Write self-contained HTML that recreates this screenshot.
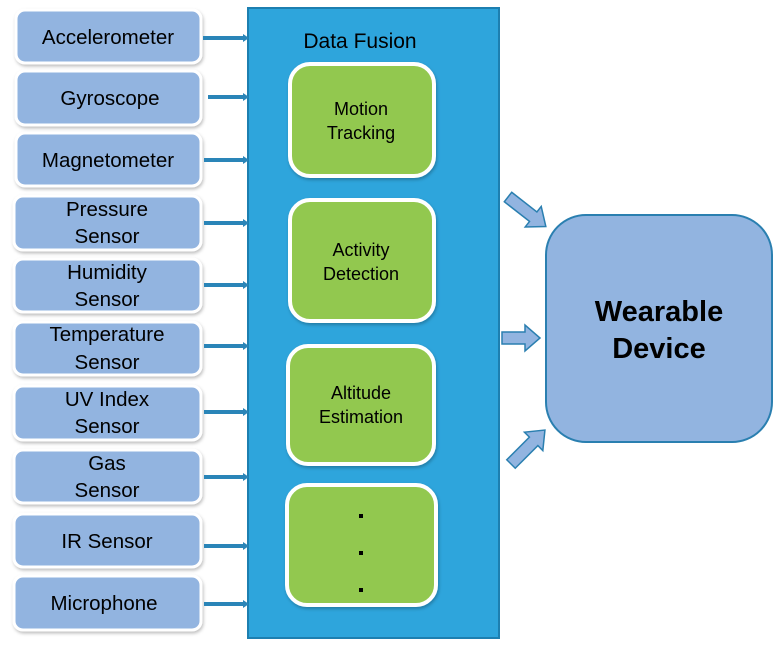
<!DOCTYPE html>
<html><head><meta charset="utf-8"><style>html,body{margin:0;padding:0;background:#fff}svg{display:block}</style></head><body>
<svg width="780" height="647" viewBox="0 0 780 647" xmlns="http://www.w3.org/2000/svg" font-family="Liberation Sans, Arial, sans-serif">
<defs><filter id="sh" x="-10%" y="-10%" width="130%" height="130%"><feDropShadow dx="1" dy="2" stdDeviation="1.5" flood-color="#000" flood-opacity="0.25"/></filter></defs>
<rect x="248" y="8" width="251" height="630" fill="#2ea5dc" stroke="#1d7fb0" stroke-width="2"/>
<text x="360" y="48" font-size="21" text-anchor="middle" fill="#000">Data Fusion</text>
<g fill="#92c850" stroke="#fff" stroke-width="4" filter="url(#sh)">
<rect x="290" y="64" width="144" height="112" rx="20"/>
<rect x="290" y="200" width="144" height="121" rx="20"/>
<rect x="288" y="346" width="146" height="118" rx="20"/>
<rect x="287" y="485" width="149" height="120" rx="20"/>
</g>
<g font-size="18" text-anchor="middle" fill="#000">
<text x="361" y="115">Motion</text><text x="361" y="139">Tracking</text>
<text x="361" y="256">Activity</text><text x="361" y="280">Detection</text>
<text x="361" y="399">Altitude</text><text x="361" y="423">Estimation</text>
</g>
<g fill="#000"><rect x="359" y="514" width="4" height="4"/><rect x="359" y="551" width="4" height="4"/><rect x="359" y="588" width="4" height="4"/></g>
<g fill="#92b4e0" stroke="#fff" stroke-width="3" filter="url(#sh)">
<rect x="16" y="10" width="185" height="53" rx="9"/>
<rect x="16" y="71" width="185" height="54" rx="9"/>
<rect x="16" y="133" width="185" height="53" rx="9"/>
<rect x="14" y="196" width="187" height="54" rx="9"/>
<rect x="14" y="259" width="187" height="53" rx="9"/>
<rect x="14" y="322" width="187" height="53" rx="9"/>
<rect x="14" y="386" width="187" height="54" rx="9"/>
<rect x="14" y="450" width="187" height="53" rx="9"/>
<rect x="14" y="514" width="187" height="53" rx="9"/>
<rect x="14" y="576" width="187" height="54" rx="9"/>
</g>
<g font-size="20.5" text-anchor="middle" fill="#000">
<text x="108" y="44">Accelerometer</text>
<text x="110" y="105">Gyroscope</text>
<text x="108" y="167">Magnetometer</text>
<text x="107" y="216">Pressure</text><text x="107" y="243">Sensor</text>
<text x="107" y="279">Humidity</text><text x="107" y="306">Sensor</text>
<text x="107" y="341">Temperature</text><text x="107" y="369">Sensor</text>
<text x="107" y="406">UV Index</text><text x="107" y="433">Sensor</text>
<text x="107" y="470">Gas</text><text x="107" y="497">Sensor</text>
<text x="107" y="548">IR Sensor</text>
<text x="104" y="610">Microphone</text>
</g>
<g stroke="#2a85b8" stroke-width="4">
<line x1="203" y1="38" x2="244" y2="38"/><line x1="208" y1="97" x2="244" y2="97"/><line x1="204" y1="160" x2="244" y2="160"/>
<line x1="204" y1="223" x2="244" y2="223"/><line x1="204" y1="285" x2="244" y2="285"/><line x1="204" y1="346" x2="244" y2="346"/>
<line x1="204" y1="412" x2="244" y2="412"/><line x1="204" y1="477" x2="244" y2="477"/><line x1="204" y1="546" x2="244" y2="546"/>
<line x1="204" y1="604" x2="244" y2="604"/>
</g>
<g fill="#2a85b8">
<polygon points="243,34 249,38 243,42"/><polygon points="243,93 249,97 243,101"/><polygon points="243,156 249,160 243,164"/>
<polygon points="243,219 249,223 243,227"/><polygon points="243,281 249,285 243,289"/><polygon points="243,342 249,346 243,350"/>
<polygon points="243,408 249,412 243,416"/><polygon points="243,473 249,477 243,481"/><polygon points="243,542 249,546 243,550"/>
<polygon points="243,600 249,604 243,608"/>
</g>
<rect x="546" y="215" width="226" height="227" rx="40" fill="#92b4e0" stroke="#2a7fb0" stroke-width="2"/>
<text x="659" y="321" font-size="29" font-weight="bold" text-anchor="middle" fill="#000">Wearable</text>
<text x="659" y="358" font-size="29" font-weight="bold" text-anchor="middle" fill="#000">Device</text>
<g fill="#92b4e0" stroke="#2a7fb0" stroke-width="1.5">
<polygon points="502,332 525,332 525,325 540,338 525,351 525,344 502,344"/>
<polygon points="0,-6 32,-6 32,-13 48,0 32,13 32,6 0,6" transform="translate(508,197) rotate(38)"/>
<polygon points="0,-6 32,-6 32,-13 48,0 32,13 32,6 0,6" transform="translate(511,464) rotate(-45)"/>
</g>
</svg>
</body></html>
